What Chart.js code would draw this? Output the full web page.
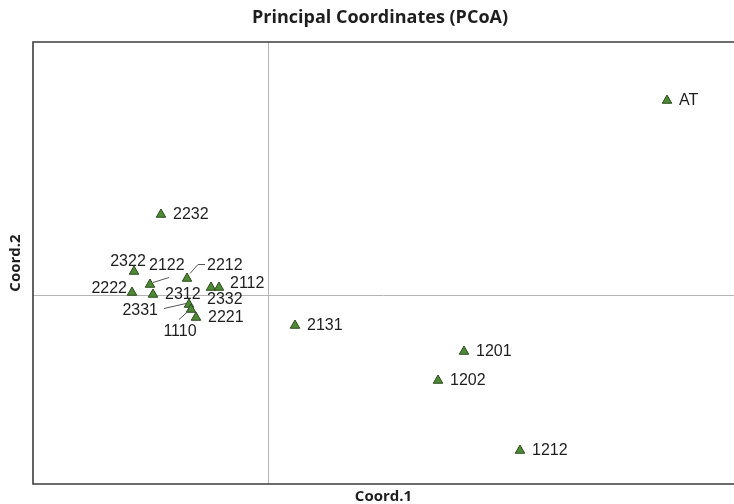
<!DOCTYPE html>
<html>
<head>
<meta charset="utf-8">
<script src="https://cdn.jsdelivr.net/npm/chart.js@4/dist/chart.umd.min.js"></script>
<style>
  html, body { margin: 0; padding: 0; background: #fff; }
  #wrap { width: 734px; height: 504px; }
</style>
</head>
<body>
<div id="wrap"><canvas id="pcoa" width="734" height="504"></canvas></div>
<script>
// Sample names and their principal coordinate scores
const samples = ['AT', '2232', '2322', '2122', '2212', '2222', '2312', '2332', '2112',
                 '2331', '1110', '2221', '2131', '1201', '1202', '1212'];
const coord1 = [0.798, -0.214, -0.268, -0.236, -0.162, -0.272, -0.230, -0.114, -0.098,
                -0.158, -0.154, -0.144, 0.054, 0.392, 0.340, 0.504];
const coord2 = [0.389, 0.161, 0.047, 0.021, 0.033, 0.005, 0.001, 0.015, 0.015,
                -0.019, -0.029, -0.045, -0.061, -0.113, -0.171, -0.311];

// Axis extents
const xRange = [-0.47, 0.932];
const yRange = [-0.378, 0.506];

const chartTitle = 'Principal Coordinates (PCoA)';

// Label placement (pixel offsets from each marker); anything not listed sits to the right
const labelLayout = {
  '2322': { dx: -6, dy: -10, align: 'center' },
  '2122': { dx: -1, dy: -19, align: 'left', leader: [[3, -2], [19, -7]] },
  '2212': { dx: 20, dy: -13, align: 'left', leader: [[3, -5], [11, -14], [18, -14]] },
  '2222': { dx: -5, dy: -4, align: 'right' },
  '2112': { dx: 11, dy: -4, align: 'left' },
  '2332': { dx: -4, dy: 12, align: 'left' },
  '2331': { dx: -31, dy: 6, align: 'right', leader: [[-25, 4], [-3, -1]] },
  '1110': { dx: -11, dy: 22, align: 'center', leader: [[-12, 10], [-2, 1]] }
};

const points = samples.map((s, i) => ({ x: coord1[i], y: coord2[i], name: s }));

const titleFont = '"Open Sans", Lato, sans-serif';

const framePlugin = {
  id: 'frame',
  beforeDatasetsDraw(chart) {
    const { ctx, chartArea: a, scales } = chart;
    const x0 = scales.x.getPixelForValue(0);
    const y0 = scales.y.getPixelForValue(0);
    ctx.save();
    // zero reference lines
    ctx.strokeStyle = '#b4b4b4';
    ctx.lineWidth = 1;
    ctx.beginPath();
    ctx.moveTo(Math.round(x0) + 0.5, a.top);
    ctx.lineTo(Math.round(x0) + 0.5, a.bottom);
    ctx.moveTo(a.left, Math.round(y0) + 0.5);
    ctx.lineTo(a.right, Math.round(y0) + 0.5);
    ctx.stroke();
    // open frame: top, left, bottom
    ctx.strokeStyle = '#3c3c3c';
    ctx.lineWidth = 1.6;
    ctx.beginPath();
    ctx.moveTo(a.right, a.top);
    ctx.lineTo(a.left, a.top);
    ctx.lineTo(a.left, a.bottom);
    ctx.lineTo(a.right, a.bottom);
    ctx.stroke();
    // chart heading, centred over the plot area
    ctx.fillStyle = '#1e1e1e';
    ctx.font = 'bold 18px ' + titleFont;
    ctx.textAlign = 'center';
    ctx.textBaseline = 'middle';
    ctx.fillText(chartTitle, 380, 18);
    ctx.restore();
  }
};

const labelPlugin = {
  id: 'pointLabels',
  afterDatasetsDraw(chart) {
    const { ctx } = chart;
    const meta = chart.getDatasetMeta(0);
    ctx.save();
    ctx.font = '16px "Liberation Sans", Arial, sans-serif';
    ctx.fillStyle = '#1e1e1e';
    ctx.textBaseline = 'middle';
    meta.data.forEach((el, i) => {
      const name = samples[i];
      const l = labelLayout[name] || { dx: 12, dy: 0, align: 'left' };
      if (l.leader) {
        ctx.strokeStyle = '#555';
        ctx.lineWidth = 1;
        ctx.beginPath();
        l.leader.forEach((p, k) => {
          const px = el.x + p[0], py = el.y + p[1];
          if (k === 0) ctx.moveTo(px, py); else ctx.lineTo(px, py);
        });
        ctx.stroke();
      }
      ctx.textAlign = l.align;
      ctx.fillText(name, el.x + l.dx, el.y + l.dy);
    });
    ctx.restore();
  }
};

new Chart(document.getElementById('pcoa'), {
  type: 'scatter',
  data: {
    datasets: [{
      data: points,
      pointStyle: 'triangle',
      pointRadius: 5.5,
      pointHoverRadius: 5.5,
      backgroundColor: '#4e8a36',
      borderColor: '#2c4a1c',
      borderWidth: 1
    }]
  },
  options: {
    responsive: false,
    animation: false,
    layout: { autoPadding: false, padding: { top: 42, right: 0, left: 0, bottom: 0 } },
    plugins: {
      legend: { display: false },
      tooltip: { enabled: false },
      title: { display: false }
    },
    scales: {
      x: {
        type: 'linear',
        min: xRange[0], max: xRange[1],
        grid: { display: false, drawTicks: false },
        border: { display: false },
        ticks: { display: false },
        title: {
          display: true, text: 'Coord.1', color: '#1e1e1e',
          font: { family: titleFont, size: 15, weight: 'bold' },
          padding: { top: 4, bottom: -2 }
        }
      },
      y: {
        type: 'linear',
        min: yRange[0], max: yRange[1],
        grid: { display: false, drawTicks: false },
        border: { display: false },
        ticks: { display: false },
        title: {
          display: true, text: 'Coord.2', color: '#1e1e1e',
          font: { family: titleFont, size: 15, weight: 'bold' },
          padding: { top: 7, bottom: 8 }
        }
      }
    }
  },
  plugins: [framePlugin, labelPlugin]
});
</script>
</body>
</html>
